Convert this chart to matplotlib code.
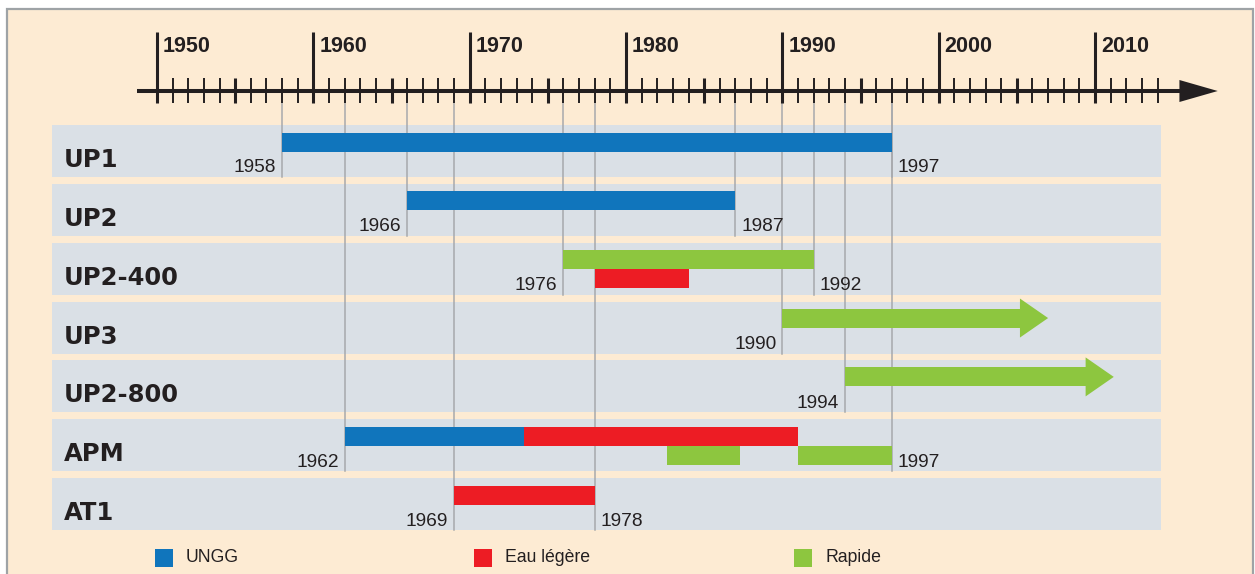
import matplotlib
matplotlib.use("Agg")
import matplotlib.pyplot as plt
from matplotlib.patches import Rectangle, Polygon

# rows, top to bottom
rows = ['UP1', 'UP2', 'UP2-400', 'UP3', 'UP2-800', 'APM', 'AT1']

# reactor technology periods: row, start year, end year, lane inside the row
ungg_rows = ['UP1', 'UP2', 'APM']
ungg_start = [1958, 1966, 1962]
ungg_end = [1997, 1987, 1973.5]
ungg_lane = [0, 0, 0]

eau_rows = ['UP2-400', 'APM', 'AT1']
eau_start = [1978, 1973.5, 1969]
eau_end = [1984, 1991, 1978]
eau_lane = [1, 0, 0]

rapide_rows = ['UP2-400', 'APM', 'APM']
rapide_start = [1976, 1982.6, 1991]
rapide_end = [1992, 1987.3, 1997]
rapide_lane = [0, 1, 1]

# still running: drawn as arrows
open_rows = ['UP3', 'UP2-800']
open_start = [1990, 1994]
open_tip = [2007, 2011.2]

# year labels under each row
start_rows = ['UP1', 'UP2', 'UP2-400', 'UP3', 'UP2-800', 'APM', 'AT1']
start_years = [1958, 1966, 1976, 1990, 1994, 1962, 1969]
end_rows = ['UP1', 'UP2', 'UP2-400', 'APM', 'AT1']
end_years = [1997, 1987, 1992, 1997, 1978]

decades = [1950, 1960, 1970, 1980, 1990, 2000, 2010]
legend_labels = ['UNGG', 'Eau légère', 'Rapide']

BLUE = '#1075BC'
RED = '#ED1C24'
GREEN = '#8DC63F'
BEIGE = '#FDEBD3'
BAND = '#DAE0E6'
GREY = '#A7A9AC'
INK = '#231F20'

W, H = 1255, 574
PPY = 938 / 60.0                  # pixels per year
X0 = 1950 - 157 / PPY             # year at the left edge


def px(x):
    return X0 + x / PPY


fig = plt.figure(figsize=(W / 100, H / 100), dpi=100)
fig.patch.set_facecolor('white')
ax = fig.add_axes([0, 0, 1, 1])
ax.set_xlim(X0, X0 + W / PPY)
ax.set_ylim(H, 0)
ax.axis('off')

# panel background and frame
ax.add_patch(Rectangle((px(7), 9), px(1253) - px(7), 600, facecolor=BEIGE,
                       edgecolor='none', zorder=0))
ax.plot([px(7), px(7), px(1253), px(1253)], [H + 5, 9, 9, H + 5],
        color='#9EA3A6', lw=1.6, zorder=0.5, solid_joinstyle='miter')

# timeline axis
ax.plot([px(137), 2015.5], [91, 91], color=INK, lw=2.9, zorder=3,
        solid_capstyle='butt')
ax.add_patch(Polygon([[2015.4, 80], [2017.85, 91], [2015.4, 102]],
                     closed=True, facecolor=INK, edgecolor='none', zorder=3))
for yr in range(1950, 2015):
    if yr in decades:
        ax.plot([yr, yr], [32, 102.5], color=INK, lw=2.2, zorder=3,
                solid_capstyle='butt')
        ax.text(yr + 0.38, 52, str(yr), ha='left', va='baseline',
                fontsize=15.5, fontweight='bold', color=INK,
                family=['Liberation Sans', 'DejaVu Sans'])
    else:
        w = 2.2 if yr % 5 == 0 else 1.4
        ax.plot([yr, yr], [78, 102.5], color=INK, lw=w, zorder=3,
                solid_capstyle='butt')

# row geometry
ROW_TOP = 125
PITCH = 58.85
BAND_H = 52
BAR_H = 19
top_of = {r: ROW_TOP + i * PITCH for i, r in enumerate(rows)}

for r in rows:
    t = top_of[r]
    ax.add_patch(Rectangle((px(52), t), px(1161) - px(52), BAND_H,
                           facecolor=BAND, edgecolor='none', zorder=1))
    ax.text(px(64), t + 42, r, ha='left', va='baseline', fontsize=17.5,
            fontweight='bold', color=INK, family='DejaVu Sans')

# guide lines from the axis down to the labelled row
for rlist, ylist in [(start_rows, start_years), (end_rows, end_years)]:
    for r, yr in zip(rlist, ylist):
        ax.plot([yr, yr], [102, top_of[r] + BAND_H], color=GREY, lw=1.1,
                zorder=2)


def draw_bars(rlist, starts, ends, lanes, color):
    for r, s, e, lane in zip(rlist, starts, ends, lanes):
        yc = top_of[r] + 7.5 + BAR_H / 2 + lane * BAR_H
        ax.barh(yc, e - s, left=s, height=BAR_H, color=color, zorder=4,
                linewidth=0)


draw_bars(ungg_rows, ungg_start, ungg_end, ungg_lane, BLUE)
draw_bars(eau_rows, eau_start, eau_end, eau_lane, RED)
draw_bars(rapide_rows, rapide_start, rapide_end, rapide_lane, GREEN)

HEAD_LEN = 1.8
for r, s, tip in zip(open_rows, open_start, open_tip):
    yc = top_of[r] + 7 + BAR_H / 2
    ax.barh(yc, tip - HEAD_LEN - s, left=s, height=BAR_H, color=GREEN,
            zorder=4, linewidth=0)
    ax.add_patch(Polygon([[tip - HEAD_LEN, yc - 19.5], [tip, yc],
                          [tip - HEAD_LEN, yc + 19.5]], closed=True,
                         facecolor=GREEN, edgecolor='none', zorder=4))

# year labels
for r, yr in zip(start_rows, start_years):
    ax.text(yr - 0.38, top_of[r] + 47.5, str(yr), ha='right', va='baseline',
            fontsize=13.8, color=INK, family=['Liberation Sans', 'DejaVu Sans'])
for r, yr in zip(end_rows, end_years):
    ax.text(yr + 0.38, top_of[r] + 47.5, str(yr), ha='left', va='baseline',
            fontsize=13.8, color=INK, family=['Liberation Sans', 'DejaVu Sans'])

# legend
legend_x = [155, 474, 794]
for x, lab, c in zip(legend_x, legend_labels, [BLUE, RED, GREEN]):
    ax.add_patch(Rectangle((px(x), 549), 18 / PPY, 18, facecolor=c,
                           edgecolor='none', zorder=4))
    ax.text(px(x + 31), 562, lab, ha='left', va='baseline', fontsize=12.7,
            color=INK, family=['Liberation Sans', 'DejaVu Sans'])

fig.savefig('out.png', dpi=100, facecolor=fig.get_facecolor())
